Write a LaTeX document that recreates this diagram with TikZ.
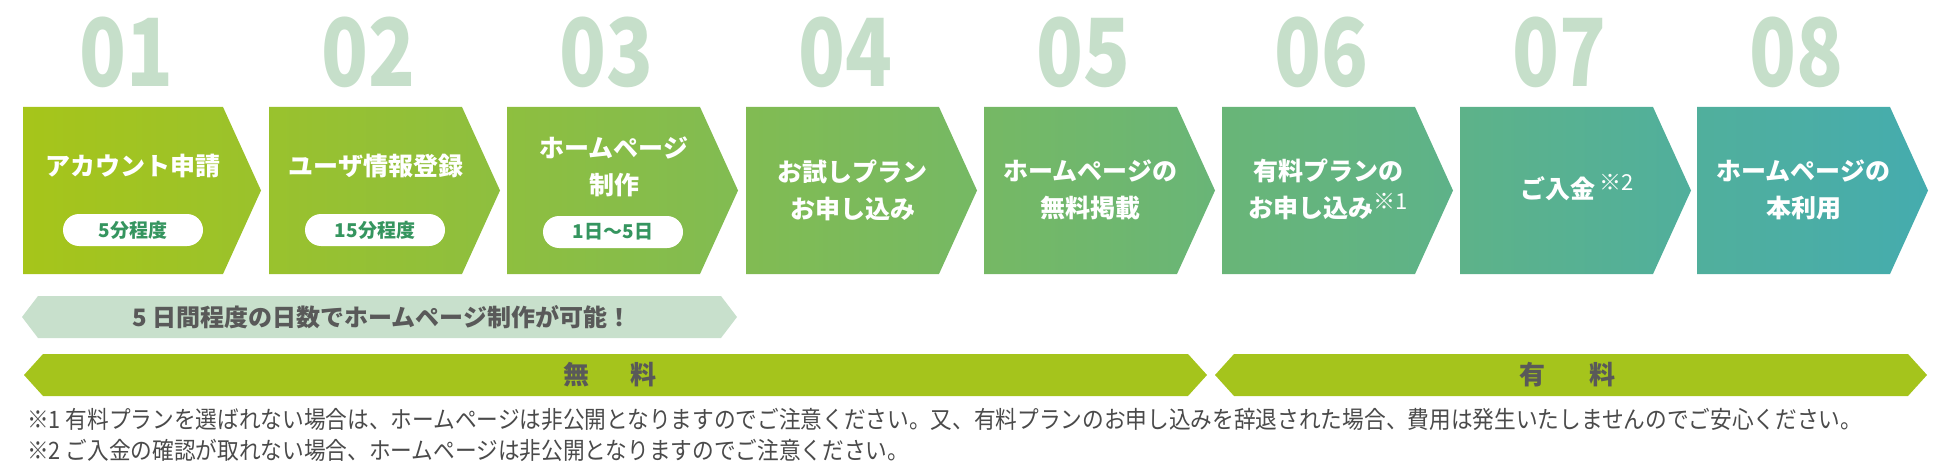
\documentclass[tikz,border=0pt]{standalone}
\usepackage{fontspec}
\setmainfont{Noto Sans CJK JP}
\usetikzlibrary{positioning}
\definecolor{flowA}{HTML}{A6C51A}
\definecolor{flowB}{HTML}{45ACAE}
\definecolor{numgreen}{HTML}{C6DFCA}
\definecolor{pillgreen}{HTML}{35955F}
\definecolor{barlight}{HTML}{C8E0CC}
\definecolor{barlime}{HTML}{A5C41C}
\definecolor{textgray}{HTML}{595959}
\definecolor{notegray}{HTML}{4A4A4A}
\newcommand{\notemark}[1]{\raisebox{8pt}{\mdseries\fontsize{22}{22}\selectfont #1}}
\begin{document}
\begin{tikzpicture}[x=1pt,y=-1pt]
\tikzstyle{num}=[inner sep=0pt,text=numgreen,font=\bfseries\fontsize{94}{94}\selectfont]
\tikzstyle{t}=[inner sep=0pt,align=center,text=white,font=\bfseries\fontsize{25}{37}\selectfont]
\tikzstyle{pill}=[fill=white,rounded corners=16pt,minimum width=140pt,minimum height=32pt,inner sep=0pt,text=pillgreen,font=\bfseries\fontsize{19}{19}\selectfont]
\tikzstyle{bt}=[inner sep=0pt,text=textgray,font=\bfseries\fontsize{24}{24}\selectfont]
\tikzstyle{note}=[anchor=west,inner sep=0pt,text=notegray,font=\fontsize{24}{24}\selectfont]
\useasboundingbox (0,0) rectangle (1950,476);
% step numbers
\node[num] (n1) at (126,52.5) {\scalebox{0.82}[1]{01}};
\node[num] (n2) at (368.5,52.5) {\scalebox{0.82}[1]{02}};
\node[num] (n3) at (606.5,52.5) {\scalebox{0.82}[1]{03}};
\node[num] (n4) at (845.5,52.5) {\scalebox{0.82}[1]{04}};
\node[num] (n5) at (1083.5,52.5) {\scalebox{0.82}[1]{05}};
\node[num] (n6) at (1321.5,52.5) {\scalebox{0.82}[1]{06}};
\node[num] (n7) at (1559.5,52.5) {\scalebox{0.82}[1]{07}};
\node[num] (n8) at (1796.5,52.5) {\scalebox{0.82}[1]{08}};
% step arrows
\shade[left color=flowA,right color=flowB!12!flowA] (23,107) -- (223,107) -- (261,190.5) -- (223,274) -- (23,274) -- cycle;
\shade[left color=flowB!13!flowA,right color=flowB!25!flowA] (269,107) -- (462,107) -- (500,190.5) -- (462,274) -- (269,274) -- cycle;
\shade[left color=flowB!25!flowA,right color=flowB!38!flowA] (507,107) -- (700,107) -- (738,190.5) -- (700,274) -- (507,274) -- cycle;
\shade[left color=flowB!38!flowA,right color=flowB!50!flowA] (746,107) -- (939,107) -- (977,190.5) -- (939,274) -- (746,274) -- cycle;
\shade[left color=flowB!50!flowA,right color=flowB!63!flowA] (984,107) -- (1177,107) -- (1215,190.5) -- (1177,274) -- (984,274) -- cycle;
\shade[left color=flowB!63!flowA,right color=flowB!75!flowA] (1222,107) -- (1415,107) -- (1453,190.5) -- (1415,274) -- (1222,274) -- cycle;
\shade[left color=flowB!75!flowA,right color=flowB!88!flowA] (1460,107) -- (1653,107) -- (1691,190.5) -- (1653,274) -- (1460,274) -- cycle;
\shade[left color=flowB!88!flowA,right color=flowB] (1697,107) -- (1890,107) -- (1928,190.5) -- (1890,274) -- (1697,274) -- cycle;
% step texts
\node[t,anchor=base] (s1) at (133,175.5) {アカウント申請};
\node[pill] (p1) at (133,230) {5分程度};
\node[t,anchor=base] (s2) at (376,175.5) {ユーザ情報登録};
\node[pill] (p2) at (375,230) {15分程度};
\node[t] (s3) at (614,166.5) {ホームページ\\制作};
\node[pill] (p3) at (613,232) {1日〜5日};
\node[t] (s4) at (852.5,190) {お試しプラン\\お申し込み};
\node[t] (s5) at (1090.5,190) {ホームページの\\無料掲載};
\node[t] (s6) at (1328.5,189.5) {有料プランの\\お申し込み\notemark{※1}};
\node[t,anchor=base] (s7) at (1577,198.5) {ご入金\,\notemark{※2}};
\node[t] (s8) at (1803.5,190) {ホームページの\\本利用};
% period bars
\fill[barlight] (22,317) -- (38,296) -- (721,296) -- (737,317) -- (721,338) -- (38,338) -- cycle;
\node[bt] (lead) at (382,317) {5 日間程度の日数でホームページ制作が可能！};
\fill[barlime] (24,375) -- (43,354) -- (1188,354) -- (1207,375) -- (1188,396) -- (43,396) -- cycle;
\fill[barlime] (1215,375) -- (1234,354) -- (1908,354) -- (1927,375) -- (1908,396) -- (1234,396) -- cycle;
\node[bt,font=\bfseries\fontsize{26}{26}\selectfont] (free) at (610,375) {無\hspace{42pt}料};
\node[bt,font=\bfseries\fontsize{26}{26}\selectfont] (paid) at (1567,375) {有\hspace{44pt}料};
% notes
\node[note] (fn1) at (27,419) {\scalebox{0.903}[1]{※1 有料プランを選ばれない場合は、ホームページは非公開となりますのでご注意ください。又、有料プランのお申し込みを辞退された場合、費用は発生いたしませんのでご安心ください。}};
\node[note] (fn2) at (27,450) {\scalebox{0.903}[1]{※2 ご入金の確認が取れない場合、ホームページは非公開となりますのでご注意ください。}};
\end{tikzpicture}
\end{document}
